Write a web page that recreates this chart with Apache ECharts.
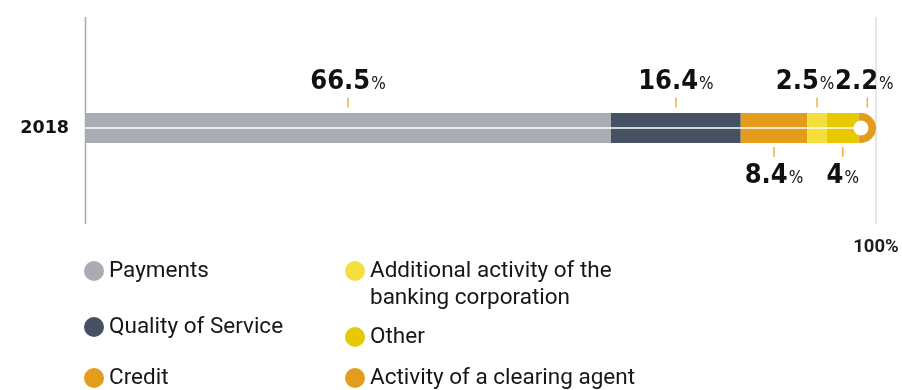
<!DOCTYPE html>
<html>
<head>
<meta charset="utf-8">
<script src="https://cdn.jsdelivr.net/npm/echarts@6/dist/echarts.min.js"></script>
<style>
  html, body { margin: 0; padding: 0; background: #ffffff; }
  #chart { width: 902px; height: 390px; }
</style>
</head>
<body>
<div id="chart"></div>
<script>
// ---- data ----
const years = ['2018'];
const seriesNames = [
  'Payments',
  'Quality of Service',
  'Credit',
  'Additional activity of the banking corporation',
  'Other',
  'Activity of a clearing agent'
];
const legendLabels = [
  'Payments',
  'Quality of Service',
  'Credit',
  'Additional activity of the\nbanking corporation',
  'Other',
  'Activity of a clearing agent'
];
const shares = [66.5, 16.4, 8.4, 2.5, 4, 2.2];
const labelSides = ['top', 'top', 'bottom', 'top', 'bottom', 'top'];
const xTicks = [0, 100];

// ---- styling ----
const colors = ['#a9adb3', '#455062', '#e39c1b', '#f5df3d', '#e8c800', '#e39c1b'];
const tickColor = '#f0b23c';
const numFont = "'Liberation Sans Narrow', 'DejaVu Sans Condensed', sans-serif";
const BAR_H = 30;
// horizontal nudges keep the narrow tail callouts apart
const labelNudge = [0, 0, 0, -12, 0, -3];
// legend placement: [left, vertical centre of first text line]
const legendSpots = [[84, 271], [84, 327], [84, 378], [345, 271], [345, 337], [345, 378]];
const LEGEND_LINE = 27;

const chart = echarts.init(document.getElementById('chart'), null, { renderer: 'canvas' });

// cumulative starts -> segment centres for the value callouts
const starts = [];
shares.reduce((acc, v, i) => { starts[i] = acc; return acc + v; }, 0);
const total = shares.reduce((a, b) => a + b, 0);
const centres = shares.map((v, i) => starts[i] + v / 2);

const barSeries = shares.map((v, i) => ({
  type: 'bar',
  name: seriesNames[i],
  stack: 'total',
  barWidth: BAR_H,
  z: 2,
  itemStyle: {
    color: colors[i],
    borderRadius: i === shares.length - 1 ? [0, BAR_H / 2, BAR_H / 2, 0] : 0
  },
  emphasis: { disabled: true },
  data: [v]
}));

const calloutSeries = {
  type: 'scatter',
  name: 'callouts',
  z: 5,
  silent: true,
  symbol: 'rect',
  symbolSize: [1.5, 10],
  itemStyle: { color: tickColor, opacity: 1 },
  data: shares.map((v, i) => ({
    value: [centres[i], years[0]],
    symbolOffset: labelSides[i] === 'top' ? [0, -25.5] : [0, 24],
    label: {
      show: true,
      position: labelSides[i],
      distance: 2,
      offset: [labelNudge[i], 0],
      formatter: () => '{n|' + v + '}{p|%}',
      rich: {
        n: { fontFamily: numFont, fontWeight: 'bold', fontSize: 27, color: '#111111', lineHeight: 30, verticalAlign: 'bottom' },
        p: { fontFamily: numFont, fontSize: 17, color: '#111111', lineHeight: 30, verticalAlign: 'bottom', padding: [0, 0, 2, 1] }
      }
    }
  }))
};

// white guide running through the middle of the bar
const guideSeries = {
  type: 'line',
  name: 'guide',
  z: 3,
  silent: true,
  symbol: 'none',
  lineStyle: { color: '#ffffff', width: 1.5, opacity: 1 },
  data: [[0, years[0]], [centres[shares.length - 1], years[0]]]
};

// ring at the rounded end of the bar
const endSeries = {
  type: 'scatter',
  name: 'end',
  z: 4,
  silent: true,
  symbol: 'circle',
  symbolSize: 15,
  symbolOffset: [-BAR_H / 2, 0],
  itemStyle: { color: '#ffffff', opacity: 1 },
  data: [[total, years[0]]]
};

const legends = seriesNames.map((name, i) => {
  const lines = legendLabels[i].split('\n').length;
  const text = lines > 1 ? '\n' + legendLabels[i] : legendLabels[i];
  const boxLines = lines > 1 ? lines + 1 : 1;
  return {
    data: [name],
    left: legendSpots[i][0],
    top: legendSpots[i][1] - (boxLines * LEGEND_LINE) / 2,
    padding: 0,
    icon: 'circle',
    itemWidth: 20,
    itemHeight: 20,
    selectedMode: false,
    formatter: () => text,
    textStyle: { fontFamily: 'Roboto', fontSize: 22.5, color: '#161616', lineHeight: LEGEND_LINE }
  };
});

chart.setOption({
  animation: false,
  backgroundColor: '#ffffff',
  grid: { left: 85, right: 26, top: 98, bottom: 232, containLabel: false },
  xAxis: {
    type: 'value',
    min: xTicks[0],
    max: xTicks[xTicks.length - 1],
    interval: xTicks[1] - xTicks[0],
    axisLine: { show: false },
    axisTick: { show: false },
    splitLine: { show: false },
    axisLabel: {
      margin: 80,
      showMinLabel: true,
      showMaxLabel: true,
      formatter: v => (v === 100 ? '100%' : ''),
      fontFamily: 'Roboto',
      fontWeight: 'bold',
      fontSize: 18.5,
      color: '#1e1e1e'
    }
  },
  yAxis: {
    type: 'category',
    data: years,
    axisLine: { show: false },
    axisTick: { show: false },
    splitLine: { show: false },
    axisLabel: {
      margin: 16,
      fontFamily: 'DejaVu Sans',
      fontWeight: 'bold',
      fontSize: 17.5,
      color: '#111111',
      padding: [4, 0, 0, 0]
    }
  },
  legend: legends,
  series: [...barSeries, guideSeries, endSeries, calloutSeries]
});

// frame lines at 0 % and 100 %
const x0 = chart.convertToPixel({ xAxisIndex: 0 }, 0);
const x100 = chart.convertToPixel({ xAxisIndex: 0 }, 100);
chart.setOption({
  graphic: [
    { type: 'line', z: 0, shape: { x1: x0 + 0.5, y1: 17, x2: x0 + 0.5, y2: 224 }, style: { stroke: '#a9a9a9', lineWidth: 1.5 } },
    { type: 'line', z: 0, shape: { x1: x100, y1: 17, x2: x100, y2: 224 }, style: { stroke: '#dedede', lineWidth: 1.5 } }
  ]
});
</script>
</body>
</html>
